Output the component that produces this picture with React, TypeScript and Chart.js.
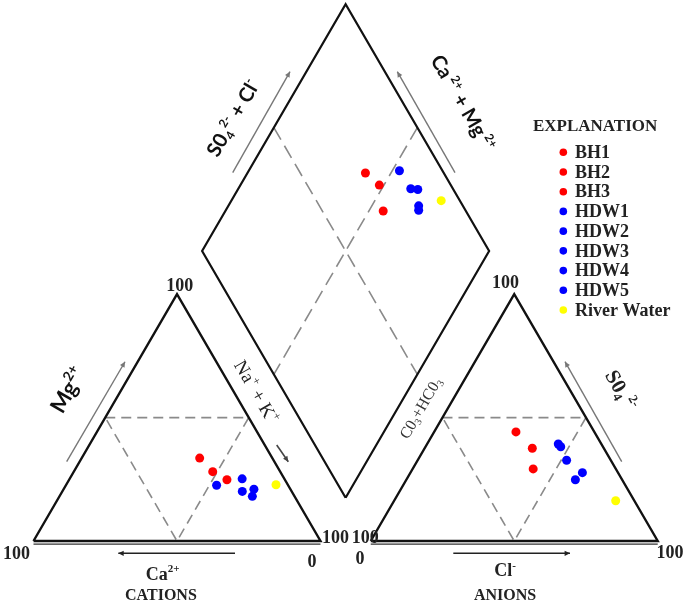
import React, { useEffect, useRef } from "react";
import { Chart, registerables } from "chart.js";

Chart.register(...registerables);

// ---------------- data ----------------
const sampleNames = ["BH1", "BH2", "BH3", "HDW1", "HDW2", "HDW3", "HDW4", "HDW5", "River Water"];
const sampleColors = ["#ff0000", "#ff0000", "#ff0000", "#0000ff", "#0000ff", "#0000ff", "#0000ff", "#0000ff", "#ffff00"];
// cations (% meq)
const caPct = [25.3, 23.5, 20.2, 24.9, 14.7, 17.2, 12.7, 14.7, 4.1];
const mgPct = [33.6, 28.1, 24.8, 22.6, 25.2, 20.1, 21.0, 18.1, 22.8];
// anions (% meq)
const so4Pct = [44.2, 37.6, 29.2, 39.3, 38.2, 27.7, 32.7, 24.8, 16.3];
const clPct = [28.5, 37.5, 42.0, 45.7, 47.1, 59.9, 51.9, 58.9, 77.2];
const legendTitle = "EXPLANATION";
const tickMax = "100";
const tickMin = "0";

// ---------------- geometry ----------------
const H = Math.sqrt(3) / 2;
const GAP = 17.5;
const AX0 = 100 + GAP; // anion triangle origin
const BX = 100 + GAP / 2; // diamond bottom
const BY = GAP * H;
const XMIN = -11.672;
const XMAX = 227.0;
const YMIN = -21.4;
const YMAX = 189.82;

type P = { x: number; y: number };
const cationXY = (ca: number, mg: number): P => {
  const na = 100 - ca - mg;
  return { x: na + mg / 2, y: mg * H };
};
const anionXY = (so4: number, cl: number): P => ({ x: AX0 + cl + so4 / 2, y: so4 * H });
const diamondXY = (ca: number, mg: number, so4: number, cl: number): P => {
  const a = so4 + cl;
  const b = ca + mg;
  return { x: BX + (a - b) / 2, y: BY + (a + b) * H };
};

const dB: P = { x: BX, y: BY };
const dR: P = { x: BX + 50, y: BY + 100 * H };
const dL: P = { x: BX - 50, y: BY + 100 * H };
const dT: P = { x: BX, y: BY + 200 * H };
const mid = (p: P, q: P): P => ({ x: (p.x + q.x) / 2, y: (p.y + q.y) / 2 });

function lineDs(pts: P[], color: string, width: number, dash: number[] = []) {
  return {
    type: "scatter" as const,
    data: pts,
    showLine: true,
    pointRadius: 0,
    borderColor: color,
    backgroundColor: color,
    borderWidth: width,
    borderDash: dash,
    borderCapStyle: "butt",
    borderJoinStyle: "miter",
    fill: false,
    tension: 0,
    order: 2,
    isFrame: true,
  } as any;
}

type Seg = { t: string; k?: "sup" | "sub" };
function drawRich(
  ctx: CanvasRenderingContext2D,
  segs: Seg[],
  x: number,
  y: number,
  rot: number,
  size: number,
  family: string,
  weight: string,
  color: string
) {
  ctx.save();
  ctx.translate(x, y);
  ctx.rotate((rot * Math.PI) / 180);
  const fontFor = (k?: string) => `${weight} ${k ? Math.round(size * 0.62) : size}px ${family}`;
  let total = 0;
  const widths = segs.map((s) => {
    ctx.font = fontFor(s.k);
    const w = ctx.measureText(s.t).width;
    total += w;
    return w;
  });
  let cx = -total / 2;
  ctx.fillStyle = color;
  ctx.textBaseline = "alphabetic";
  ctx.textAlign = "left";
  segs.forEach((s, i) => {
    ctx.font = fontFor(s.k);
    const dy = s.k === "sup" ? -size * 0.42 : s.k === "sub" ? size * 0.18 : 0;
    ctx.fillText(s.t, cx, size * 0.35 + dy);
    cx += widths[i];
  });
  ctx.restore();
}

function drawArrow(
  ctx: CanvasRenderingContext2D,
  x1: number,
  y1: number,
  x2: number,
  y2: number,
  color: string,
  width: number,
  head: number
) {
  ctx.save();
  ctx.strokeStyle = color;
  ctx.fillStyle = color;
  ctx.lineWidth = width;
  ctx.beginPath();
  ctx.moveTo(x1, y1);
  ctx.lineTo(x2, y2);
  ctx.stroke();
  const ang = Math.atan2(y2 - y1, x2 - x1);
  ctx.beginPath();
  ctx.moveTo(x2, y2);
  ctx.lineTo(x2 - head * Math.cos(ang - 0.45), y2 - head * Math.sin(ang - 0.45));
  ctx.lineTo(x2 - head * Math.cos(ang + 0.45), y2 - head * Math.sin(ang + 0.45));
  ctx.closePath();
  ctx.fill();
  ctx.restore();
}

const SERIF = '"Liberation Serif", "Times New Roman", serif';
const SANS = 'Lato, "Liberation Sans", sans-serif';

const annotations = {
  id: "piperAnnotations",
  afterDraw(chart: any) {
    const ctx: CanvasRenderingContext2D = chart.ctx;
    const sx = chart.scales.x;
    const sy = chart.scales.y;
    const X = (v: number) => sx.getPixelForValue(v);
    const Y = (v: number) => sy.getPixelForValue(v);

    // corner ticks
    const num = (t: string, x: number, y: number) =>
      drawRich(ctx, [{ t }], X(x), Y(y), 0, 18, SERIF, "bold", "#222");
    num(tickMax, 51.0, 89.8);
    num(tickMax, -5.9, -4.2);
    num(tickMin, 97.0, -7.0);
    num(tickMax, 105.2, 1.4);
    num(tickMax, 164.5, 90.9);
    num(tickMax, 115.6, 1.4);
    num(tickMin, 113.8, -6.0);
    num(tickMax, 221.8, -3.9);

    // arrows
    const arr = (a: number[], color: string, w: number, head: number) =>
      drawArrow(ctx, X(a[0]), Y(a[1]), X(a[2]), Y(a[3]), color, w, head);
    arr([11.56, 27.82, 31.88, 62.9], "#777", 1.4, 6);
    arr([84.74, 33.68, 88.78, 27.82], "#444", 1.6, 6);
    arr([70.21, -4.32, 29.55, -4.32], "#222", 1.4, 6);
    arr([146.27, -4.32, 186.93, -4.32], "#222", 1.4, 6);
    arr([204.95, 27.82, 185.19, 62.91], "#777", 1.4, 6);
    arr([69.41, 129.23, 89.37, 164.67], "#777", 1.4, 6);
    arr([146.86, 129.23, 126.76, 164.67], "#777", 1.4, 6);

    // axis labels
    drawRich(ctx, [{ t: "Mg" }, { t: "2+", k: "sup" }], X(12.0), Y(53.0), -60, 22, SANS, "bold", "#111");
    drawRich(
      ctx,
      [{ t: "Na" }, { t: "+", k: "sup" }, { t: " + K" }, { t: "+", k: "sup" }],
      X(77.8),
      Y(52.4),
      60,
      19,
      SERIF,
      "normal",
      "#222"
    );
    drawRich(ctx, [{ t: "Ca" }, { t: "2+", k: "sup" }], X(45.0), Y(-11.3), 0, 18, SERIF, "bold", "#222");
    drawRich(ctx, [{ t: "CATIONS" }], X(44.4), Y(-18.6), 0, 16, SERIF, "bold", "#222");
    drawRich(ctx, [{ t: "Cl" }, { t: "-", k: "sup" }], X(164.3), Y(-10.2), 0, 18, SERIF, "bold", "#222");
    drawRich(ctx, [{ t: "ANIONS" }], X(164.3), Y(-18.6), 0, 16, SERIF, "bold", "#222");
    drawRich(
      ctx,
      [{ t: "S0" }, { t: "4", k: "sub" }, { t: " 2-", k: "sup" }],
      X(204.9),
      Y(53.0),
      60,
      21,
      SERIF,
      "bold",
      "#222"
    );
    drawRich(
      ctx,
      [{ t: "C0" }, { t: "3", k: "sub" }, { t: "+HC0" }, { t: "3", k: "sub" }],
      X(134.7),
      Y(46.7),
      -60,
      16,
      SERIF,
      "normal",
      "#333"
    );
    drawRich(
      ctx,
      [{ t: "S0" }, { t: "4", k: "sub" }, { t: "2-", k: "sup" }, { t: " + Cl" }, { t: "-", k: "sup" }],
      X(69.5),
      Y(148.4),
      -60,
      20,
      SANS,
      "bold",
      "#111"
    );
    drawRich(
      ctx,
      [{ t: "Ca" }, { t: " 2+", k: "sup" }, { t: " + Mg" }, { t: " 2+", k: "sup" }],
      X(149.6),
      Y(153.7),
      60,
      20,
      SANS,
      "bold",
      "#111"
    );

    // legend (EXPLANATION)
    ctx.save();
    ctx.fillStyle = "#222";
    ctx.font = `bold 17px ${SERIF}`;
    ctx.textBaseline = "middle";
    ctx.textAlign = "left";
    ctx.fillText(legendTitle, X(174.0), Y(145.3));
    const samples = chart.data.datasets.filter((d: any) => !d.isFrame);
    samples.forEach((d: any, i: number) => {
      const yy = Y(136.4 - i * 6.92);
      ctx.beginPath();
      ctx.fillStyle = d.backgroundColor;
      ctx.arc(X(184.6), yy, 3.8, 0, Math.PI * 2);
      ctx.fill();
      ctx.fillStyle = "#222";
      ctx.font = `bold 18px ${SERIF}`;
      ctx.fillText(d.label, X(188.7), yy + 1);
    });
    ctx.restore();
  },
};

export default function App() {
  const ref = useRef<HTMLCanvasElement | null>(null);
  useEffect(() => {
    if (!ref.current) return;
    const frame = [
      // left (cation) triangle
      lineDs([{ x: 0, y: 0 }, { x: 100, y: 0 }, { x: 50, y: 100 * H }, { x: 0, y: 0 }], "#111", 2.4),
      lineDs([{ x: 0, y: -1.1 }, { x: 100, y: -1.1 }], "#333", 1.3),
      // right (anion) triangle
      lineDs([{ x: AX0, y: 0 }, { x: AX0 + 100, y: 0 }, { x: AX0 + 50, y: 100 * H }, { x: AX0, y: 0 }], "#111", 2.4),
      lineDs([{ x: AX0, y: -1.1 }, { x: AX0 + 100, y: -1.1 }], "#333", 1.3),
      // diamond
      lineDs([dB, dR, dT, dL, dB], "#111", 2.2),
      // dashed guides
      lineDs([{ x: 25, y: 50 * H }, { x: 75, y: 50 * H }, { x: 50, y: 0 }, { x: 25, y: 50 * H }], "#8a8a8a", 1.6, [10, 6]),
      lineDs(
        [{ x: AX0 + 25, y: 50 * H }, { x: AX0 + 75, y: 50 * H }, { x: AX0 + 50, y: 0 }, { x: AX0 + 25, y: 50 * H }],
        "#8a8a8a",
        1.6,
        [10, 6]
      ),
      lineDs([mid(dL, dT), mid(dB, dR)], "#8a8a8a", 1.6, [14, 7]),
      lineDs([mid(dR, dT), mid(dB, dL)], "#8a8a8a", 1.6, [14, 7]),
    ];
    const samples = sampleNames.map((name, i) => ({
      type: "scatter" as const,
      label: name,
      data: [
        cationXY(caPct[i], mgPct[i]),
        anionXY(so4Pct[i], clPct[i]),
        diamondXY(caPct[i], mgPct[i], so4Pct[i], clPct[i]),
      ],
      pointRadius: 4.5,
      pointBorderWidth: 0,
      backgroundColor: sampleColors[i],
      borderColor: sampleColors[i],
      showLine: false,
      order: 0,
    }));
    const chart = new Chart(ref.current, {
      type: "scatter",
      data: { datasets: [...frame, ...samples] as any },
      options: {
        animation: false,
        responsive: false,
        events: [],
        layout: { padding: 0, autoPadding: false },
        plugins: { legend: { display: false }, tooltip: { enabled: false } },
        scales: {
          x: { type: "linear", min: XMIN, max: XMAX, display: false },
          y: { type: "linear", min: YMIN, max: YMAX, display: false },
        },
      },
      plugins: [annotations],
    });
    return () => chart.destroy();
  }, []);
  return (
    <div style={{ position: "absolute", left: 0, top: 0, width: 685, height: 602, background: "#fff" }}>
      <canvas ref={ref} width={685} height={602} style={{ display: "block" }} />
    </div>
  );
}
